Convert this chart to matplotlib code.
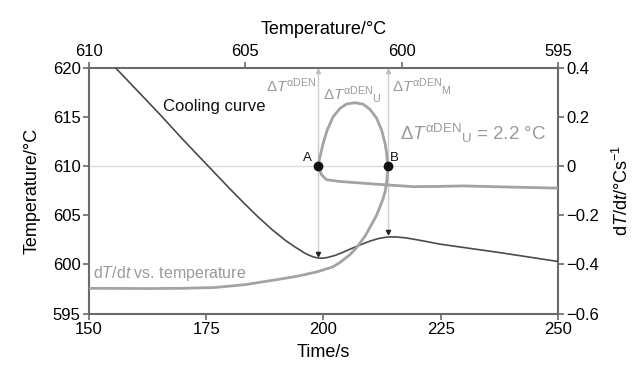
import matplotlib
matplotlib.use('Agg')
import matplotlib.pyplot as plt

plt.rcParams['font.family'] = ['Liberation Sans', 'DejaVu Sans']
plt.rcParams['mathtext.fontset'] = 'custom'
plt.rcParams['mathtext.rm'] = 'Liberation Sans'
plt.rcParams['mathtext.it'] = 'Liberation Sans:italic'
plt.rcParams['mathtext.bf'] = 'Liberation Sans:bold'

# cooling curve: time (s) vs temperature (C)
time_s = [150, 155, 160, 165, 170, 175, 180, 183, 186, 189, 192, 194, 196, 197, 198,
          199, 200, 201, 202.5, 204, 206, 208, 210, 211.5, 213, 214, 215.5, 217.5, 220,
          225, 237.6, 250]
temp_c = [622.8, 620.3, 617.8, 615.3, 612.7, 610.2, 607.7, 606.25, 604.85, 603.55,
          602.4, 601.75, 601.15, 600.92, 600.74, 600.64, 600.64, 600.72, 600.92, 601.2,
          601.62, 602.02, 602.38, 602.6, 602.74, 602.79, 602.79, 602.7, 602.5, 602.05,
          601.2, 600.3]

# dT/dt vs temperature (top axis / right axis)
dtdt_temp = [610, 608, 607, 606, 605, 604, 603.3, 602.7, 602.2, 601.95, 601.65, 601.43,
             601.17, 600.95, 600.8, 600.69, 600.6, 600.53, 600.49, 600.46, 600.45,
             600.48, 600.53, 600.64, 600.8, 601.01, 601.23, 601.49, 601.76, 601.97,
             602.19, 602.38, 602.51, 602.61, 602.67,
             602.56, 602.4, 601.97, 600.91, 599.64, 598.78, 598.04, 596.44, 595.0]
dtdt_val = [-0.497, -0.498, -0.497, -0.494, -0.482, -0.462, -0.447, -0.43, -0.41, -0.39,
            -0.36, -0.33, -0.285, -0.235, -0.2, -0.165, -0.135, -0.105, -0.075, -0.04,
            0.0, 0.052, 0.092, 0.146, 0.194, 0.230, 0.251, 0.257, 0.252, 0.234, 0.20,
            0.146, 0.092, 0.038, 0.0,
            -0.036, -0.056, -0.063, -0.073, -0.084, -0.083, -0.081, -0.086, -0.09]

# characteristic points
t_A, t_B = 198.9, 213.8
T_A, T_B = 602.67, 600.45
tip_A, tip_B = 600.9, 603.1

fig = plt.figure(figsize=(6.38, 3.69), dpi=100)
pos = [0.1395, 0.150, 0.735, 0.667]
ax = fig.add_axes(pos)
ax2 = fig.add_axes(pos, frameon=False)

dark = '#4a4a4a'
light = '#a3a3a3'
txtgray = '#9a9a9a'
spine = '#6a6a6a'

ax.axhline(610, color='#dcdcdc', lw=1, zorder=0)
for t, tip in [(t_A, tip_A), (t_B, tip_B)]:
    ax.plot([t, t], [619.7, tip], color='#cccccc', lw=1, zorder=1)
    ax.plot([t], [619.6], marker='^', color='#bdbdbd', ms=3, zorder=2)
    ax.plot([t], [tip + 0.2], marker='v', color='#222222', ms=3, zorder=2)

ax.plot(time_s, temp_c, color=dark, lw=1.2, zorder=3)
ax.set_xlim(150, 250)
ax.set_ylim(595, 620)
ax.set_xticks([150, 175, 200, 225, 250])
ax.set_yticks([595, 600, 605, 610, 615, 620])
ax.set_xlabel('Time/s', fontsize=13, labelpad=5)
ax.set_ylabel('Temperature/°C', fontsize=13, labelpad=9)

ax2.plot(dtdt_temp, dtdt_val, color=light, lw=2.0, zorder=3)
ax2.plot([T_A, T_B], [0, 0], 'o', color='#111111', ms=6, zorder=4)
ax2.set_xlim(610, 595)
ax2.set_ylim(-0.6, 0.4)
ax2.set_xticks([610, 605, 600, 595])
ax2.set_yticks([-0.6, -0.4, -0.2, 0, 0.2, 0.4])
ax2.set_yticklabels(['\u22120.6', '\u22120.4', '\u22120.2', '0', '0.2', '0.4'])
ax2.xaxis.tick_top()
ax2.xaxis.set_label_position('top')
ax2.yaxis.tick_right()
ax2.yaxis.set_label_position('right')
ax2.set_xlabel('Temperature/°C', fontsize=13, labelpad=7)
ax2.set_ylabel(r'd$T$/d$t$/°Cs$^{-1}$', fontsize=13, labelpad=9)
ax2.patch.set_visible(False)

for a in (ax, ax2):
    a.tick_params(labelsize=12, length=4, width=1.2, color=spine, pad=2)
for s in ax.spines.values():
    s.set_color(spine)
    s.set_linewidth(1.5)

lab = r'$\Delta T^{\mathrm{αDEN}}$'
lab_u = r'$\Delta T^{\mathrm{αDEN}}{}_{\mathrm{U}}$'
lab_m = r'$\Delta T^{\mathrm{αDEN}}{}_{\mathrm{M}}$'

ax.text(165.8, 616.0, 'Cooling curve', fontsize=12, ha='left', va='center', color='#111111')
ax.text(150.9, 599.05, r'd$T$/d$t$ vs. temperature', fontsize=11.5, ha='left', va='center',
        color=txtgray)
ax.text(198.4, 617.5, lab, fontsize=11, ha='right', va='baseline', color=txtgray)
ax.text(199.8, 616.7, lab_u, fontsize=11, ha='left', va='baseline', color=txtgray)
ax.text(214.6, 617.6, lab_m, fontsize=11, ha='left', va='baseline', color=txtgray)
ax.text(216.3, 612.65, lab_u + ' = 2.2 °C', fontsize=13.5, ha='left', va='baseline',
        color=txtgray)
ax.text(197.6, 610.8, 'A', fontsize=9.5, ha='right', va='center', color='#111111')
ax.text(214.1, 610.8, 'B', fontsize=9.5, ha='left', va='center', color='#111111')

fig.savefig('out.png', dpi=100)
